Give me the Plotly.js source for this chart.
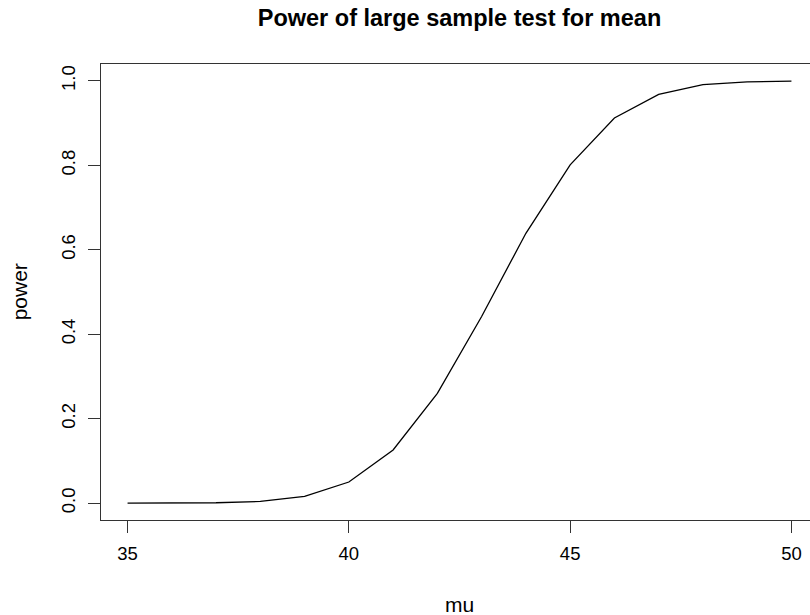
<!DOCTYPE html>
<html><head><meta charset="utf-8">
<script src="https://cdn.plot.ly/plotly-3.0.1.min.js"></script>
<style>html,body{margin:0;padding:0;overflow:hidden;background:#fff;width:810px;height:615px}#c{width:820px;height:615px}</style>
</head><body><div id="c"></div>
<script>
var mu = [35,36,37,38,39,40,41,42,43,44,45,46,47,48,49,50];
var power = [0.0000,0.0001,0.0008,0.0040,0.0160,0.0500,0.1260,0.2600,0.4420,0.6390,0.8010,0.9120,0.9680,0.9910,0.9978,0.9996];
var xTicks = [35,40,45,50];
var yTicks = [0,0.2,0.4,0.6,0.8,1.0];
var yTickText = ["0.0","0.2","0.4","0.6","0.8","1.0"];

var fnt = {family:"Liberation Sans, Arial, sans-serif", size:18.5, color:"#000"};
var lab = {family:"Liberation Sans, Arial, sans-serif", size:21, color:"#000"};
var trace = {x:mu, y:power, type:"scatter", mode:"lines", line:{color:"#000", width:1.3}, hoverinfo:"none"};
var layout = {
  width:820, height:615,
  margin:{l:100.7, r:1.7, t:63.8, b:94.8},
  paper_bgcolor:"#fff", plot_bgcolor:"#fff",
  showlegend:false,
  title:{text:"<b>Power of large sample test for mean</b>", font:{family:"Liberation Sans, Arial, sans-serif", size:23.5, color:"#000"}, x:0.5, xref:"paper", y:1-18/615, yref:"container", yanchor:"middle", xanchor:"center"},
  xaxis:{range:[34.4,50.6], tickvals:xTicks, ticktext:xTicks.map(String), ticks:"outside", ticklen:12, tickwidth:1, tickcolor:"#333",
         showline:true, mirror:true, linecolor:"#333", linewidth:1.2, showgrid:false, zeroline:false, tickfont:fnt, ticklabelstandoff:5},
  yaxis:{range:[-0.04,1.04], tickvals:yTicks, ticktext:yTickText, ticks:"outside", ticklen:12, tickwidth:1, tickcolor:"#333",
         showline:true, mirror:true, linecolor:"#333", linewidth:1.2, showgrid:false, zeroline:false, tickfont:fnt, tickangle:-90, ticklabelstandoff:5},
  annotations:[
    {text:"mu", xref:"paper", yref:"paper", x:0.5, y:-(605-520.2)/456.4, xanchor:"center", yanchor:"middle", showarrow:false, font:lab},
    {text:"power", xref:"paper", yref:"paper", x:-(100.7-19)/717.6, y:0.5, xanchor:"center", yanchor:"middle", showarrow:false, textangle:-90, font:lab}
  ]
};
Plotly.newPlot("c",[trace],layout,{displayModeBar:false, staticPlot:true});
</script></body></html>
